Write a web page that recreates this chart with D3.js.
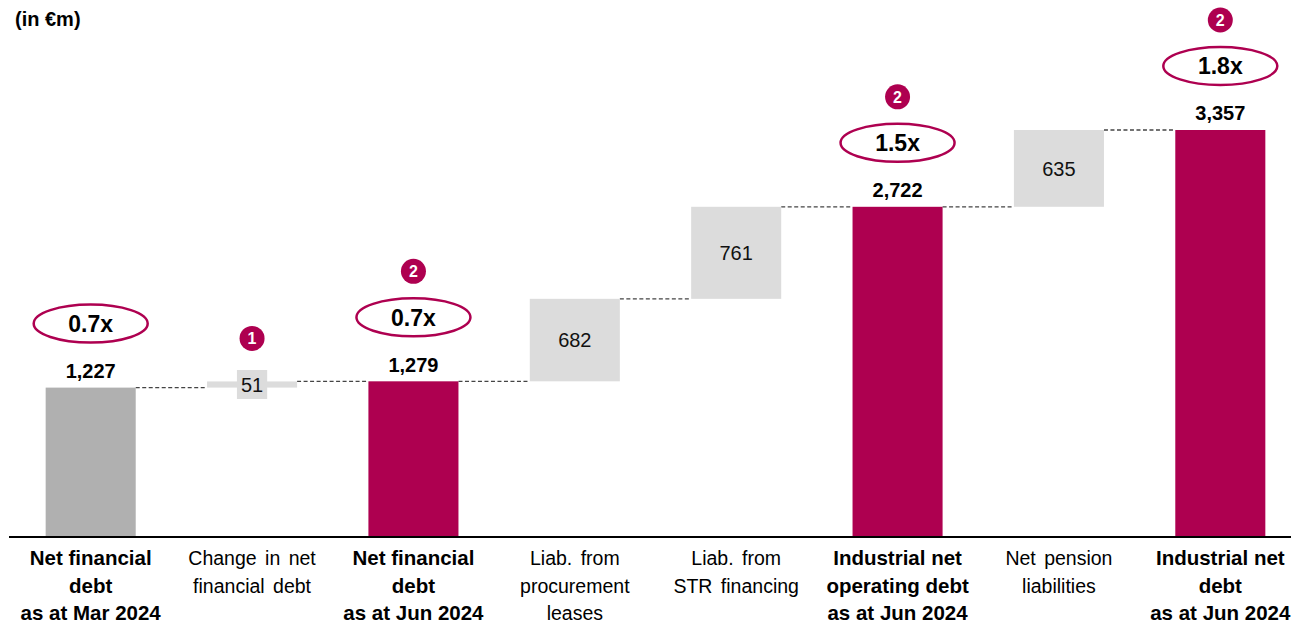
<!DOCTYPE html>
<html><head><meta charset="utf-8">
<script src="https://cdn.jsdelivr.net/npm/d3@7"></script>
<style>
html,body{margin:0;padding:0;background:#fff;}
svg{display:block;}
</style></head>
<body>
<script>
const categories = [
  ["Net financial","debt","as at Mar 2024"],
  ["Change in net","financial debt"],
  ["Net financial","debt","as at Jun 2024"],
  ["Liab. from","procurement","leases"],
  ["Liab. from","STR financing"],
  ["Industrial net","operating debt","as at Jun 2024"],
  ["Net pension","liabilities"],
  ["Industrial net","debt","as at Jun 2024"]
];
const values = [1227, 51, 1279, 682, 761, 2722, 635, 3357];
const barType = ["start","step","total","step","step","total","step","total"];
const multiples = ["0.7x", null, "0.7x", null, null, "1.5x", null, "1.8x"];
const footnotes = [null, "1", "2", null, null, "2", null, "2"];
const unitLabel = "(in €m)";

const W = 1291, H = 624;
const crimson = "#ae0050", startGray = "#b0b0b0", stepGray = "#dcdcdc";
const numFont = "'Liberation Sans', Arial, sans-serif";

const svg = d3.select("body").append("svg").attr("width", W).attr("height", H);

const x = d3.scaleBand().domain(d3.range(categories.length)).range([10, 1301])
  .paddingInner(0.442).paddingOuter(0.221);
const y = d3.scaleLinear().domain([0, 3357]).range([536, 130]);

// compute waterfall
let cum = 0;
const bars = values.map((v, i) => {
  let lo, hi;
  if (barType[i] === "step") { lo = cum; hi = cum + v; cum = hi; }
  else { lo = 0; hi = v; cum = v; }
  return {i, v, lo, hi, type: barType[i]};
});

// connectors
for (let i = 0; i < bars.length - 1; i++) {
  const lvl = bars[i].hi;
  svg.append("line")
    .attr("x1", x(i) + x.bandwidth()).attr("x2", x(i + 1))
    .attr("y1", y(lvl)).attr("y2", y(lvl))
    .attr("stroke", "#444").attr("stroke-width", 1.3)
    .attr("stroke-dasharray", "4,2.5");
}

// bars
svg.selectAll("rect.bar").data(bars).enter().append("rect")
  .attr("class", "bar")
  .attr("x", d => x(d.i)).attr("width", x.bandwidth())
  .attr("y", d => y(d.hi)).attr("height", d => y(d.lo) - y(d.hi))
  .attr("fill", d => d.type === "start" ? startGray : d.type === "total" ? crimson : stepGray);

// step labels with background
bars.filter(d => d.type === "step").forEach(d => {
  const cx = x(d.i) + x.bandwidth() / 2;
  const cy = (y(d.lo) + y(d.hi)) / 2;
  const g = svg.append("g");
  const t = g.append("text").attr("x", cx).attr("y", cy).attr("dy", "0.36em")
    .attr("text-anchor", "middle").attr("font-family", numFont)
    .attr("font-size", 20).attr("fill", "#111").text(d3.format(",")(d.v));
  const bb = t.node().getBBox();
  g.insert("rect", "text").attr("x", bb.x - 4).attr("y", cy - 14.5)
    .attr("width", bb.width + 8).attr("height", 29).attr("fill", stepGray);
});

// total labels
bars.filter(d => d.type !== "step").forEach(d => {
  const cx = x(d.i) + x.bandwidth() / 2;
  svg.append("text").attr("x", cx).attr("y", y(d.hi) - 17).attr("dy", "0.36em")
    .attr("text-anchor", "middle").attr("font-family", numFont)
    .attr("font-weight", "bold").attr("font-size", 20).attr("fill", "#000")
    .text(d3.format(",")(d.v));
});

// multiples ellipses
bars.forEach(d => {
  const m = multiples[d.i];
  if (!m) return;
  const cx = x(d.i) + x.bandwidth() / 2;
  const cy = y(d.hi) - 64;
  svg.append("ellipse").attr("cx", cx).attr("cy", cy).attr("rx", 57).attr("ry", 19)
    .attr("fill", "#fff").attr("stroke", crimson).attr("stroke-width", 2.5);
  svg.append("text").attr("x", cx).attr("y", cy).attr("dy", "0.36em")
    .attr("text-anchor", "middle").attr("font-family", numFont)
    .attr("font-weight", "bold").attr("font-size", 23).attr("fill", "#000").text(m);
});

// footnote badges
bars.forEach(d => {
  const f = footnotes[d.i];
  if (!f) return;
  const cx = x(d.i) + x.bandwidth() / 2;
  const cy = d.type === "step" ? y(d.hi) - 43 : y(d.hi) - 110;
  svg.append("circle").attr("cx", cx).attr("cy", cy).attr("r", 12.5).attr("fill", crimson);
  svg.append("text").attr("x", cx).attr("y", cy).attr("dy", "0.36em")
    .attr("text-anchor", "middle").attr("font-family", numFont)
    .attr("font-weight", "bold").attr("font-size", 16).attr("fill", "#fff").text(f);
});

// axis
const axis = d3.axisBottom(x).tickSize(0).tickFormat("");
const ax = svg.append("g").attr("transform", "translate(0,537)").call(axis);
ax.select(".domain").attr("stroke", "#000").attr("stroke-width", 2).attr("d", "M9,0H1291");

// category labels
categories.forEach((lines, i) => {
  const bold = barType[i] !== "step";
  const cx = x(i) + x.bandwidth() / 2;
  const t = svg.append("text").attr("text-anchor", "middle")
    .attr("font-family", numFont).attr("font-size", bold ? 20.5 : 19.5)
    .attr("font-weight", bold ? "bold" : "normal").attr("fill", "#000")
    .attr("word-spacing", bold ? 0 : 3);
  lines.forEach((l, k) => {
    t.append("tspan").attr("x", cx).attr("y", 565 + k * 27.5).text(l);
  });
});

// unit label
svg.append("text").attr("x", 15).attr("y", 26).attr("font-family", numFont)
  .attr("font-weight", "bold").attr("font-size", 20).attr("fill", "#000").text(unitLabel);
</script>
</body></html>
